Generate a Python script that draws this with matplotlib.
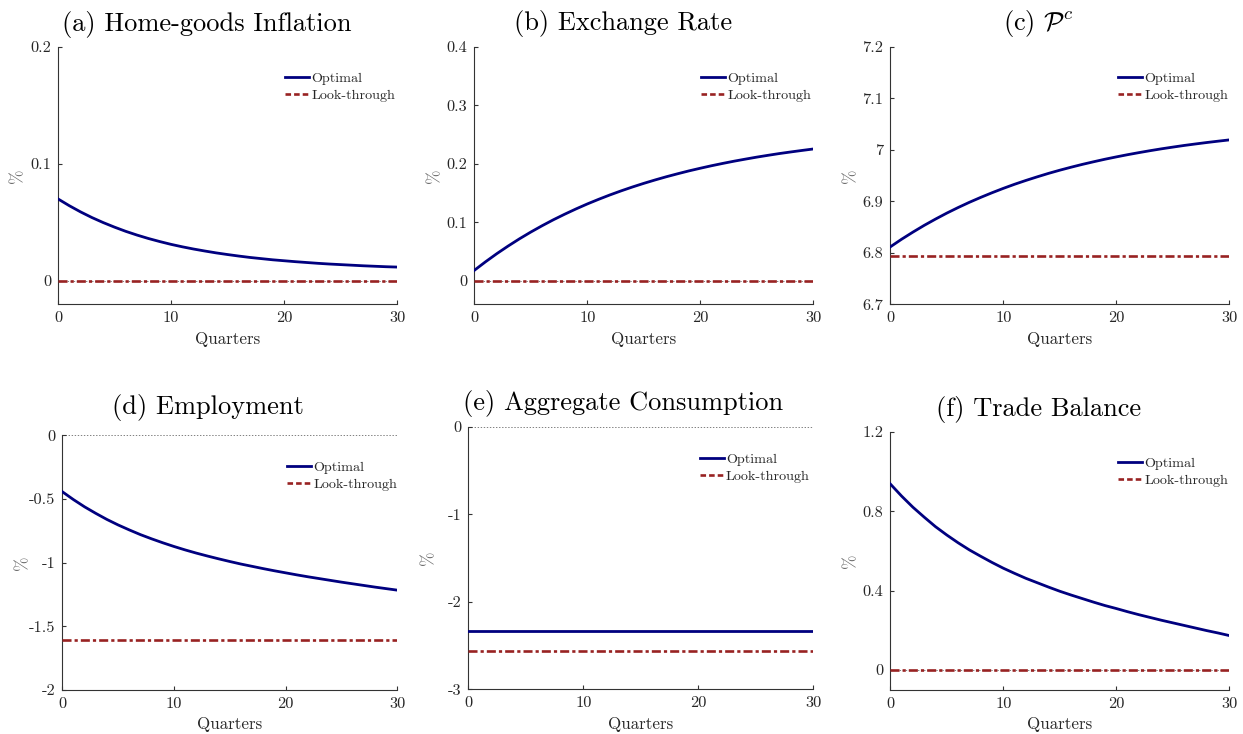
# ==============================
# Optimal vs look-through responses, six panels
# ==============================

import matplotlib
matplotlib.use("Agg")
import matplotlib.pyplot as plt
from matplotlib.lines import Line2D

# ------------------------------
# 1. Data
# ------------------------------
quarters = list(range(31))

# (a) home-goods inflation
opt_a = [0.0700, 0.0642, 0.0589, 0.0541, 0.0498, 0.0459, 0.0423, 0.0391, 0.0362, 0.0336,
         0.0312, 0.0291, 0.0272, 0.0255, 0.0239, 0.0225, 0.0212, 0.0200, 0.0190, 0.0180,
         0.0172, 0.0164, 0.0157, 0.0150, 0.0144, 0.0139, 0.0134, 0.0129, 0.0125, 0.0121, 0.0118]
lt_a = [0.0] * 31

# (b) exchange rate
opt_b = [0.0180, 0.0327, 0.0466, 0.0596, 0.0719, 0.0834, 0.0942, 0.1044, 0.1139, 0.1229,
         0.1314, 0.1393, 0.1468, 0.1538, 0.1604, 0.1666, 0.1724, 0.1779, 0.1830, 0.1879,
         0.1924, 0.1967, 0.2007, 0.2045, 0.2080, 0.2114, 0.2145, 0.2175, 0.2202, 0.2228, 0.2253]
lt_b = [0.0] * 31

# (c) P^c
opt_c = [6.8115, 6.8263, 6.8401, 6.8532, 6.8654, 6.8770, 6.8878, 6.8980, 6.9075, 6.9165,
         6.9250, 6.9330, 6.9404, 6.9474, 6.9541, 6.9603, 6.9661, 6.9716, 6.9767, 6.9816,
         6.9861, 6.9904, 6.9944, 6.9982, 7.0018, 7.0051, 7.0083, 7.0112, 7.0140, 7.0166, 7.0191]
lt_c = [6.794] * 31

# (d) employment
opt_d = [-0.443, -0.505, -0.562, -0.613, -0.661, -0.704, -0.743, -0.780, -0.813, -0.844,
         -0.873, -0.900, -0.925, -0.948, -0.970, -0.991, -1.011, -1.029, -1.047, -1.064,
         -1.080, -1.096, -1.111, -1.125, -1.139, -1.153, -1.166, -1.179, -1.192, -1.204, -1.216]
lt_d = [-1.607] * 31

# (e) aggregate consumption
opt_e = [-2.335] * 31
lt_e = [-2.56] * 31

# (f) trade balance
opt_f = [0.937, 0.876, 0.820, 0.770, 0.722, 0.680, 0.641, 0.605, 0.573, 0.542,
         0.513, 0.487, 0.462, 0.440, 0.418, 0.397, 0.378, 0.360, 0.342, 0.325,
         0.310, 0.294, 0.279, 0.265, 0.251, 0.238, 0.225, 0.212, 0.199, 0.187, 0.174]
lt_f = [0.0] * 31

titles = ["(a) Home-goods Inflation", "(b) Exchange Rate", r"(c) $\mathcal{P}^c$",
          "(d) Employment", "(e) Aggregate Consumption", "(f) Trade Balance"]

yticks = [[0, 0.1, 0.2], [0, 0.1, 0.2, 0.3, 0.4], [6.7, 6.8, 6.9, 7.0, 7.1, 7.2],
          [-2, -1.5, -1, -0.5, 0], [-3, -2, -1, 0], [0, 0.4, 0.8, 1.2]]
yticklabels = [["0", "0.1", "0.2"], ["0", "0.1", "0.2", "0.3", "0.4"],
               ["6.7", "6.8", "6.9", "7", "7.1", "7.2"],
               ["-2", "-1.5", "-1", "-0.5", "0"], ["-3", "-2", "-1", "0"],
               ["0", "0.4", "0.8", "1.2"]]
ylims = [(-0.02, 0.2), (-0.04, 0.4), (6.7, 7.2), (-2, 0), (-3, 0), (-0.1, 1.2)]
xticks = [0, 10, 20, 30]

optimal = [opt_a, opt_b, opt_c, opt_d, opt_e, opt_f]
lookthrough = [lt_a, lt_b, lt_c, lt_d, lt_e, lt_f]

# ------------------------------
# 2. Style
# ------------------------------
plt.rcParams["font.family"] = "serif"
plt.rcParams["font.serif"] = ["cmr10"]
plt.rcParams["mathtext.fontset"] = "cm"
plt.rcParams["axes.unicode_minus"] = False
plt.rcParams["axes.formatter.use_mathtext"] = True
plt.rcParams["lines.scale_dashes"] = False

BLUE = "#00007f"
RED = "#982222"
AXCOL = "#333333"
TXT = "#262626"

W, H = 1243, 734
fig = plt.figure(figsize=(W / 100, H / 100), dpi=100)

# axes boxes in pixels: left, right, top, bottom
boxes = [(58, 397, 46.7, 304.3), (474.3, 813.3, 46.7, 304.3), (890.3, 1229.3, 46.7, 304.3),
         (62.3, 397.3, 435.3, 690), (468.3, 813.3, 426.7, 689.3), (890.3, 1229.3, 431.7, 690)]
title_pos = [(207, 31), (623, 30), (1038.5, 30), (207.5, 414), (623.3, 410), (1039, 416)]
legend_pos = [(278, 87), (694.3, 87), (1111, 87), (280, 476), (692.7, 468), (1111, 472)]

# ------------------------------
# 3. Panels
# ------------------------------
for i in range(6):
    l, r, t, b = boxes[i]
    ax = fig.add_axes([l / W, 1 - b / H, (r - l) / W, (b - t) / H])

    ax.axhline(0, color="#808080", lw=0.7, ls=(0, (1, 1.2)), clip_on=False, zorder=1)
    ax.plot(quarters, optimal[i], color=BLUE, lw=2.0, zorder=3)
    ax.plot(quarters, lookthrough[i], color=RED, lw=1.9, dashes=(6.5, 2.2, 2.3, 2.2), zorder=3)

    ax.set_xlim(0, 30)
    ax.set_ylim(*ylims[i])
    ax.set_xticks(xticks)
    ax.set_xticklabels([str(v) for v in xticks])
    ax.set_yticks(yticks[i])
    ax.set_yticklabels(yticklabels[i])

    for s in ["top", "right"]:
        ax.spines[s].set_visible(False)
    for s in ["left", "bottom"]:
        ax.spines[s].set_color(AXCOL)
        ax.spines[s].set_linewidth(0.8)
    ax.tick_params(direction="in", length=2.6, width=0.8, color=AXCOL,
                   labelcolor=TXT, labelsize=11.8, pad=5)

    ax.set_xlabel("Quarters", fontsize=12.2, color=TXT, labelpad=4.5)
    ax.set_ylabel("%", fontsize=12.5, color="#6a6a6a", va="center")
    ax.yaxis.set_label_coords(-40 / (r - l), 0.5)

    tx, ty = title_pos[i]
    fig.text(tx / W, 1 - ty / H, titles[i], fontsize=19, ha="center", va="baseline", color="black")

    handles = [Line2D([], [], color=BLUE, lw=2.0),
               Line2D([], [], color=RED, lw=1.9, dashes=(4.0, 2.2))]
    lx, ly = legend_pos[i]
    ax.legend(handles, ["Optimal", "Look-through"], loc="center left",
              bbox_to_anchor=(lx / W, 1 - ly / H), bbox_transform=fig.transFigure,
              frameon=False, fontsize=10.2, borderpad=0, handlelength=1.7,
              handletextpad=0.15, labelspacing=0.25, labelcolor=TXT)

fig.savefig("out.png", dpi=100)
